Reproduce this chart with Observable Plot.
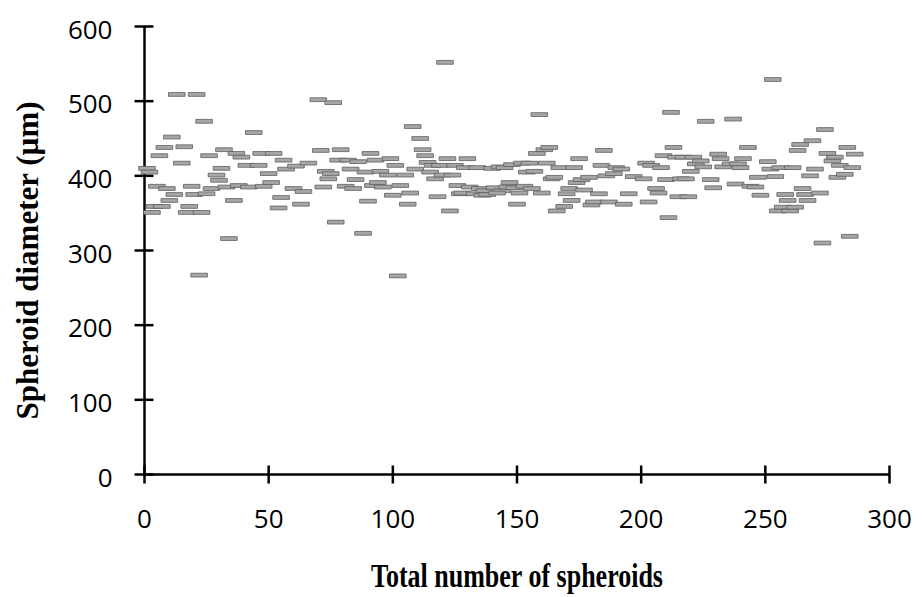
<!DOCTYPE html>
<html><head><meta charset="utf-8">
<script src="https://cdn.jsdelivr.net/npm/d3@7"></script>
<script src="https://cdn.jsdelivr.net/npm/@observablehq/plot@0.6"></script>
<style>body{margin:0;background:#fff}</style>
</head><body><div id="chart"></div>
<script>
const spheroidNo = [1,2,3,4,5,6,7,8,9,10,11,12,13,15,16,17,18,19,20,21,22,23,24,25,26,27,29,30,31,32,33,34,36,37,38,39,41,42,44,46,47,48,50,51,52,54,55,56,57,60,61,63,64,66,70,71,
72,73,74,75,76,77,78,79,81,82,83,84,85,86,88,89,90,91,92,93,94,95,96,98,99,100,101,102,103,105,106,107,108,109,111,112,113,114,115,116,117,118,119,120,121,122,123,124,125,126,127,128,129,130,131,133,134,135,136,137,138,140,141,143,144,
142,145,146,147,148,149,150,151,152,153,154,155,156,157,158,159,160,161,162,163,164,165,166,167,169,170,171,172,173,174,175,176,177,179,180,181,183,184,185,186,187,189,190,192,193,195,197,201,202,203,204,206,207,208,209,210,211,212,213,214,215,216,
217,218,219,220,221,222,224,225,226,228,229,231,232,233,236,237,238,239,240,241,243,244,246,247,248,251,252,253,254,255,256,257,258,259,260,261,262,263,264,265,266,267,268,269,270,272,273,274,275,277,278,279,280,282,283,284,285,286];
const diameter = [410,405,351,359,386,427,359,438,383,367,452,375,509,417,439,351,359,386,375,509,267,351,473,376,427,383,401,394,410,435,385,316,367,430,387,425,414,385,458,414,430,386,403,391,430,357,371,421,409,383,413,362,379,417,502,434,
385,406,396,403,498,338,421,435,386,421,409,383,395,419,323,405,366,430,387,421,391,406,385,401,423,374,414,266,387,401,362,377,466,409,450,435,427,418,405,414,396,372,414,401,552,423,353,401,414,387,376,377,411,423,385,376,411,383,374,380,375,410,384,412,380,
377,411,385,391,415,384,362,377,417,386,405,417,383,406,430,482,377,435,417,438,396,398,353,411,359,376,383,367,411,391,423,395,381,398,361,365,376,414,434,400,365,403,411,409,362,376,399,396,417,365,414,383,377,411,427,395,344,485,438,425,372,396,
425,396,372,406,425,416,420,412,473,395,384,429,423,412,416,476,389,416,411,423,438,386,385,398,374,419,409,529,399,353,411,358,375,367,353,411,358,434,442,383,375,367,400,447,409,377,310,462,430,420,425,398,414,402,438,319,411,429];
const xTicks = [0, 50, 100, 150, 200, 250, 300];
const yTicks = [0, 100, 200, 300, 400, 500, 600];
const xTitle = "Total number of spheroids";
const yTitle = "Spheroid diameter (µm)";

const data = spheroidNo.map((x, i) => ({x, d: diameter[i]}));

const dash = {draw(ctx) { ctx.moveTo(-8.3, -1.9); ctx.lineTo(8.3, -1.9); ctx.lineTo(8.3, 1.9); ctx.lineTo(-8.3, 1.9); ctx.closePath(); }};
const hTick = {draw(ctx) { ctx.moveTo(-10, 0); ctx.lineTo(9, 0); }};
const vTick = {draw(ctx) { ctx.moveTo(0, -9); ctx.lineTo(0, 9); }};

const chart = Plot.plot({
  width: 922, height: 597,
  marginLeft: 144, marginRight: 33, marginTop: 26, marginBottom: 123,
  x: {domain: [0, 300], axis: null},
  y: {domain: [0, 600], axis: null},
  marks: [
    Plot.ruleY([0], {stroke: "black", strokeWidth: 2.5}),
    Plot.ruleX([0], {stroke: "black", strokeWidth: 2.5}),
    Plot.dot(yTicks, {x: 0, y: d => d, symbol: hTick, stroke: "black", strokeWidth: 2.5, fill: "none"}),
    Plot.dot(xTicks, {x: d => d, y: 0, symbol: vTick, stroke: "black", strokeWidth: 2.5, fill: "none"}),
    Plot.dot(data, {x: "x", y: "d", symbol: dash, fill: "#a6a6a6", stroke: "#5e5e5e", strokeWidth: 0.8}),
    Plot.text(yTicks, {x: 0, y: d => d, text: d => String(d), dx: -32, dy: 4, textAnchor: "end", fontSize: 26, fontFamily: "Open Sans", fill: "black"}),
    Plot.text(xTicks, {x: d => d, y: 0, text: d => String(d), dy: 45, textAnchor: "middle", fontSize: 26, fontFamily: "Open Sans", fill: "black"}),
    Plot.text([xTitle], {frameAnchor: "bottom", text: d => d, dy: 112, textAnchor: "middle", fontSize: 26, fontWeight: "bold", fontFamily: "Liberation Serif", fill: "black"}),
    Plot.text([yTitle], {frameAnchor: "left", text: d => d, rotate: -90, dx: -116, dy: 10, textAnchor: "middle", fontSize: 31, fontWeight: "bold", fontFamily: "Liberation Serif", fill: "black"})
  ]
});
// the reference's bottom title is drawn vertically stretched
for (const t of chart.querySelectorAll("text")) {
  if (t.textContent === xTitle) {
    const tr = t.getAttribute("transform") || "";
    t.setAttribute("transform", tr + " scale(1,1.3)");
  }
}
document.getElementById("chart").appendChild(chart);
</script>
</body></html>
